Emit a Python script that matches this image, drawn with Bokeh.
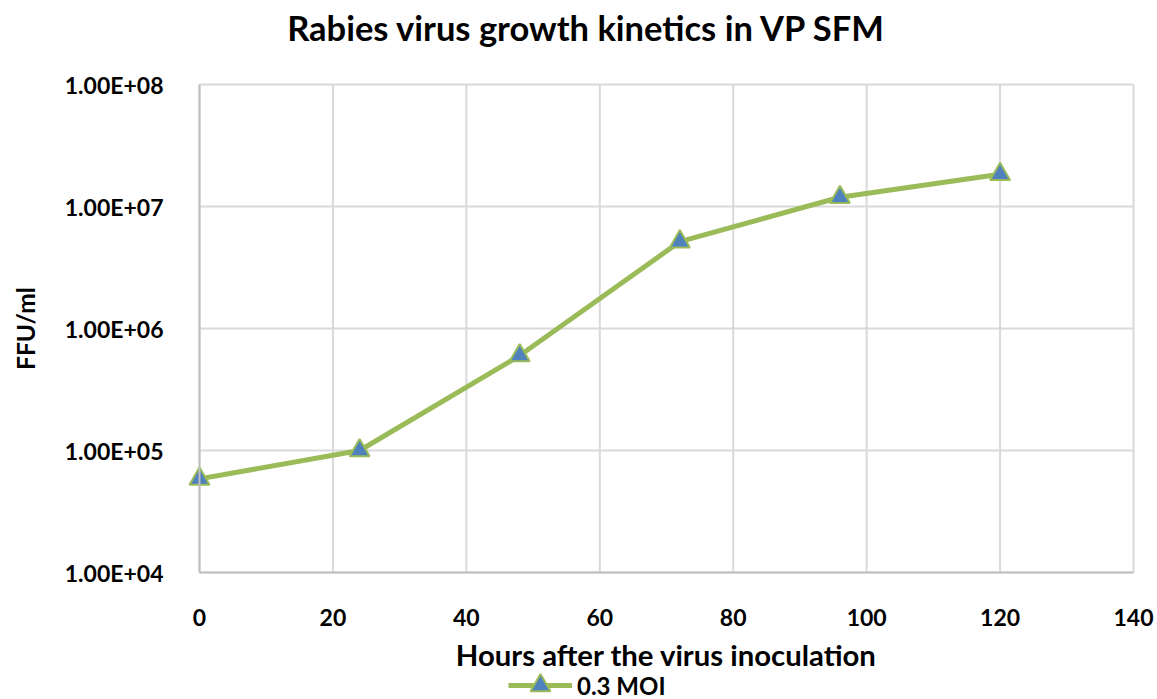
import math
from bokeh.plotting import figure
from bokeh.models import Range1d, FixedTicker, Legend, LegendItem, Label
from bokeh.embed import file_html
from bokeh.resources import INLINE

hours = [0, 24, 48, 72, 96, 120]
ffu = [5.85e4, 1.0e5, 6.0e5, 5.15e6, 1.19e7, 1.84e7]
series_name = "0.3 MOI"
x_ticks = [0, 20, 40, 60, 80, 100, 120, 140]
y_ticks = [1e4, 1e5, 1e6, 1e7, 1e8]
y_tick_labels = ["1.00E+04", "1.00E+05", "1.00E+06", "1.00E+07", "1.00E+08"]
title_text = "Rabies virus growth kinetics in VP SFM"
x_label = "Hours after the virus inoculation"
y_label = "FFU/ml"

FONT = "Lato"
GREEN = "#9BBB59"
BLUE = "#4F81BD"
GRID = "#D9D9D9"
AXIS = "#BFBFBF"

W, H = 1157, 699
# pixel placement of the plotting area (data x 0..140, y 1e4..1e8)
PX_LEFT, PX_RIGHT, PX_TOP, PX_BOTTOM = 199, 1133, 84, 572
ux = (PX_RIGHT - PX_LEFT) / (x_ticks[-1] - x_ticks[0])
dec = (PX_BOTTOM - PX_TOP) / 4.0
x0 = x_ticks[0] - PX_LEFT / ux
x1 = x_ticks[-1] + (W - PX_RIGHT) / ux
y0 = 10 ** (4 - (H - PX_BOTTOM) / dec)
y1 = 10 ** (8 + PX_TOP / dec)

p = figure(width=W, height=H, output_backend="svg", toolbar_location=None,
           y_axis_type="log", x_range=Range1d(x0, x1), y_range=Range1d(y0, y1),
           min_border_left=0, min_border_right=0, min_border_top=0, min_border_bottom=0)
p.outline_line_color = None
p.background_fill_color = "white"
p.border_fill_color = "white"

p.xaxis.ticker = FixedTicker(ticks=x_ticks)
p.yaxis.ticker = FixedTicker(ticks=y_ticks)
p.yaxis.major_label_overrides = {t: l for t, l in zip(y_ticks, y_tick_labels)}
p.xaxis.fixed_location = y_ticks[0]
p.yaxis.fixed_location = x_ticks[0]
p.xaxis.bounds = (x_ticks[0], x_ticks[-1])
p.yaxis.bounds = (y_ticks[0], y_ticks[-1])

for ax in (p.xaxis, p.yaxis):
    ax.major_tick_line_color = None
    ax.minor_tick_line_color = None
    ax.axis_line_color = AXIS
    ax.axis_line_width = 2
    ax.major_label_text_font = FONT
    ax.major_label_text_font_style = "bold"
    ax.major_label_text_font_size = "23px"
    ax.major_label_text_color = "black"
p.xaxis.major_label_standoff = 30
p.yaxis.major_label_standoff = 30

p.xgrid.grid_line_color = None
p.ygrid.grid_line_color = None

# grid lines at the tick values, spanning the data area only
p.segment(x0=x_ticks, y0=[y_ticks[0]] * len(x_ticks), x1=x_ticks,
          y1=[y_ticks[-1]] * len(x_ticks), line_color=GRID, line_width=2)
p.segment(x0=[x_ticks[0]] * len(y_ticks), y0=y_ticks, x1=[x_ticks[-1]] * len(y_ticks),
          y1=y_ticks, line_color=GRID, line_width=2)

ln = p.line(hours, ffu, line_color=GREEN, line_width=5)
mk = p.scatter(hours, ffu, marker="triangle", size=20, fill_color=BLUE,
               line_color=GREEN, line_width=2)

def add_text(text, x, y, size, angle=0.0, align="center", baseline="alphabetic"):
    p.add_layout(Label(x=x, y=y, x_units="screen", y_units="screen", text=text,
                       angle=angle, text_font=FONT, text_font_style="bold",
                       text_font_size=size, text_color="black",
                       text_align=align, text_baseline=baseline))

add_text(title_text, 586.5, H - 27, "34.5px")
add_text(x_label, (PX_LEFT + PX_RIGHT) / 2, H - 654, "29.3px")
add_text(y_label, 25, H - (PX_TOP + PX_BOTTOM) / 2, "24.5px",
         angle=math.pi / 2, baseline="middle")

legend = Legend(items=[LegendItem(label=series_name, renderers=[ln, mk])],
                location=(508, -11), orientation="horizontal",
                glyph_width=64, glyph_height=50, label_standoff=5, padding=0, margin=0,
                border_line_color=None, background_fill_alpha=0,
                label_text_font=FONT, label_text_font_style="bold",
                label_text_font_size="24px", label_text_color="black")
p.add_layout(legend)

open("out.html", "w").write(file_html(p, INLINE))
